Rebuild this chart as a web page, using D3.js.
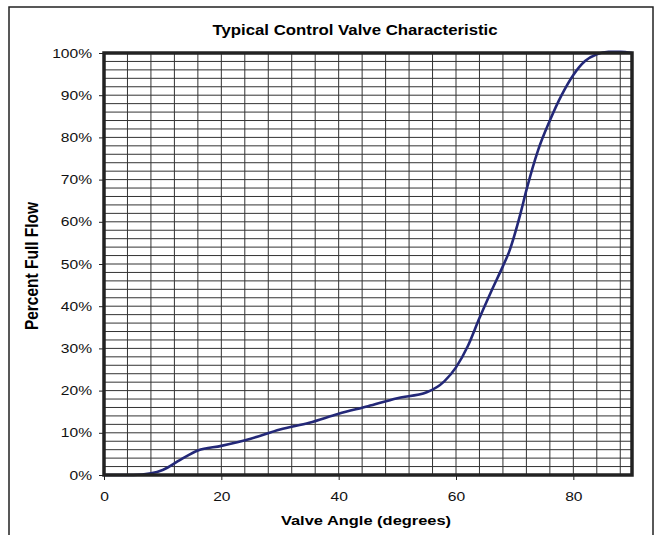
<!DOCTYPE html>
<html>
<head>
<meta charset="utf-8">
<script src="https://cdn.jsdelivr.net/npm/d3@7"></script>
<style>
  body { margin: 0; background: #fff; }
  svg { display: block; font-family: 'Liberation Sans', Arial, sans-serif; }
</style>
</head>
<body>
<div id="chart"></div>
<script>
// valve angle (degrees) vs percent of full flow
var angles = [0, 5, 8, 10, 13, 16, 20, 25, 30, 35, 40, 45, 50, 55, 58, 60, 62, 64, 66, 68, 69, 71, 72, 74, 76, 78, 80, 82, 84, 86, 88, 90];
var flows = [0, 0, 0.4, 1.2, 3.6, 5.8, 6.9, 8.6, 10.8, 12.4, 14.5, 16.3, 18.2, 19.6, 22.2, 25.5, 30.5, 37.2, 43.5, 49.5, 52.7, 62, 67.5, 77, 84, 90, 94.8, 98.1, 99.7, 100.3, 100.3, 100];
var xTicks = [0, 20, 40, 60, 80];
var yTicks = [0, 10, 20, 30, 40, 50, 60, 70, 80, 90, 100];

var width = 655, height = 535;
var margin = {top: 53, right: 23, bottom: 60, left: 104};
var plotW = width - margin.left - margin.right;
var plotH = height - margin.top - margin.bottom;
var stretch = 1.2; // text in the original is a bit wide

var svg = d3.select('#chart').append('svg')
	.attr('width', width)
	.attr('height', height);

// outer frame
svg.append('rect')
	.attr('x', 9).attr('y', 7)
	.attr('width', 644).attr('height', 540)
	.attr('fill', 'none')
	.attr('stroke', '#222')
	.attr('stroke-width', 1.5);

svg.append('text')
	.attr('transform', 'translate(355,35) scale(' + stretch + ',1)')
	.attr('text-anchor', 'middle')
	.style('font-size', '14px')
	.style('font-weight', 'bold')
	.text('Typical Control Valve Characteristic');

var x = d3.scaleLinear().domain([0, 90]).range([0, plotW]);
var y = d3.scaleLinear().domain([0, 100]).range([plotH, 0]);

var g = svg.append('g').attr('transform', 'translate(' + margin.left + ',' + margin.top + ')');

// grid: every 4 degrees, every 2 percent
g.append('g').selectAll('line.v')
	.data(d3.range(4, 90, 4))
	.enter().append('line')
	.attr('x1', function(d) { return x(d); })
	.attr('x2', function(d) { return x(d); })
	.attr('y1', 0).attr('y2', plotH)
	.attr('stroke', '#333').attr('stroke-width', 1);

g.append('g').selectAll('line.h')
	.data(d3.range(2, 100, 2))
	.enter().append('line')
	.attr('y1', function(d) { return y(d); })
	.attr('y2', function(d) { return y(d); })
	.attr('x1', 0).attr('x2', plotW)
	.attr('stroke', '#333').attr('stroke-width', 1);

// axes
var xAxis = g.append('g')
	.attr('transform', 'translate(0,' + plotH + ')')
	.call(d3.axisBottom(x).tickValues(xTicks).tickSize(5).tickPadding(12));
var yAxis = g.append('g')
	.call(d3.axisLeft(y).tickValues(yTicks).tickSize(5).tickPadding(5)
		.tickFormat(function(d) { return d + '%'; }));

[xAxis, yAxis].forEach(function(a) {
	a.select('.domain').remove();
	a.selectAll('line').attr('stroke', '#222');
	a.selectAll('text')
		.attr('fill', '#111')
		.attr('transform', 'scale(' + stretch + ',1)')
		.style('font-size', '13px')
		.style('font-family', 'Liberation Sans, Arial, sans-serif');
});

// data line
var line = d3.line()
	.x(function(d) { return x(d[0]); })
	.y(function(d) { return y(d[1]); })
	.curve(d3.curveMonotoneX);

g.append('path')
	.datum(d3.zip(angles, flows))
	.attr('d', line)
	.attr('fill', 'none')
	.attr('stroke', '#232878')
	.attr('stroke-width', 2.6)
	.attr('stroke-linejoin', 'round');

// plot border
g.append('rect')
	.attr('x', 0).attr('y', 0)
	.attr('width', plotW).attr('height', plotH)
	.attr('fill', 'none')
	.attr('stroke', '#222')
	.attr('stroke-width', 3.5);

svg.append('text')
	.attr('transform', 'translate(' + (margin.left + plotW / 2 - 2) + ',525) scale(' + stretch + ',1)')
	.attr('text-anchor', 'middle')
	.style('font-size', '13.7px')
	.style('font-weight', 'bold')
	.text('Valve Angle (degrees)');

svg.append('text')
	.attr('transform', 'translate(38,' + (margin.top + plotH / 2 + 2) + ') scale(' + stretch + ',1) rotate(-90)')
	.attr('text-anchor', 'middle')
	.style('font-size', '15.5px')
	.style('font-weight', 'bold')
	.text('Percent Full Flow');
</script>
</body>
</html>
